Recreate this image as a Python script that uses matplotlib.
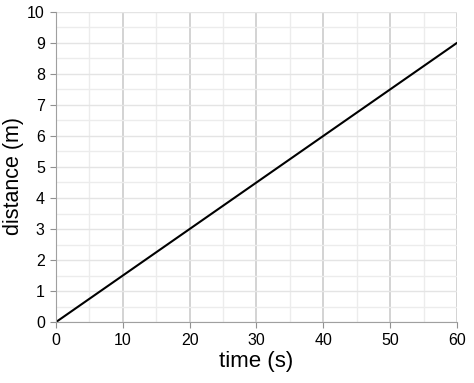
import numpy as np
import matplotlib as mpl
mpl.use('Agg')
from matplotlib import pyplot as plt

#data
time_s = [0, 60]
distance_m = [0, 9]

x_ticks = [0, 10, 20, 30, 40, 50, 60]
y_ticks = [0, 1, 2, 3, 4, 5, 6, 7, 8, 9, 10]

plt.rcParams['font.family'] = ['Liberation Sans', 'DejaVu Sans']

fig = plt.figure(figsize=(4.74, 3.83), dpi=100)
ax = fig.add_axes([0.118, 0.159, 0.846, 0.810])

#grid: minor lines light, major vertical lines a bit darker
ax.set_xticks(x_ticks)
ax.set_yticks(y_ticks)
ax.set_xticks(np.arange(5, 60, 10), minor=True)
ax.set_yticks(np.arange(0.5, 10, 1), minor=True)
ax.grid(which='major', axis='x', color='#cccccc', lw=1.2)
ax.grid(which='major', axis='y', color='#e4e4e4', lw=1.0)
ax.grid(which='minor', color='#ececec', lw=1.0)
ax.tick_params(which='minor', length=0)
ax.tick_params(which='major', length=4, color='#909090', labelsize=11.5, pad=4)
ax.set_axisbelow(True)

ax.plot(time_s, distance_m, color='black', lw=1.5, solid_capstyle='round')

ax.set_xlim(0, 60)
ax.set_ylim(0, 10)
ax.spines['top'].set_visible(False)
ax.spines['right'].set_visible(False)
ax.spines['left'].set_color('#a0a0a0')
ax.spines['bottom'].set_color('#a0a0a0')

ax.set_xlabel('time (s)', fontsize=16, labelpad=2)
ax.set_ylabel('distance (m)', fontsize=15.5)
ax.yaxis.set_label_coords(-0.08, 0.47)

plt.savefig('out.png', dpi=100)
plt.close("all")
